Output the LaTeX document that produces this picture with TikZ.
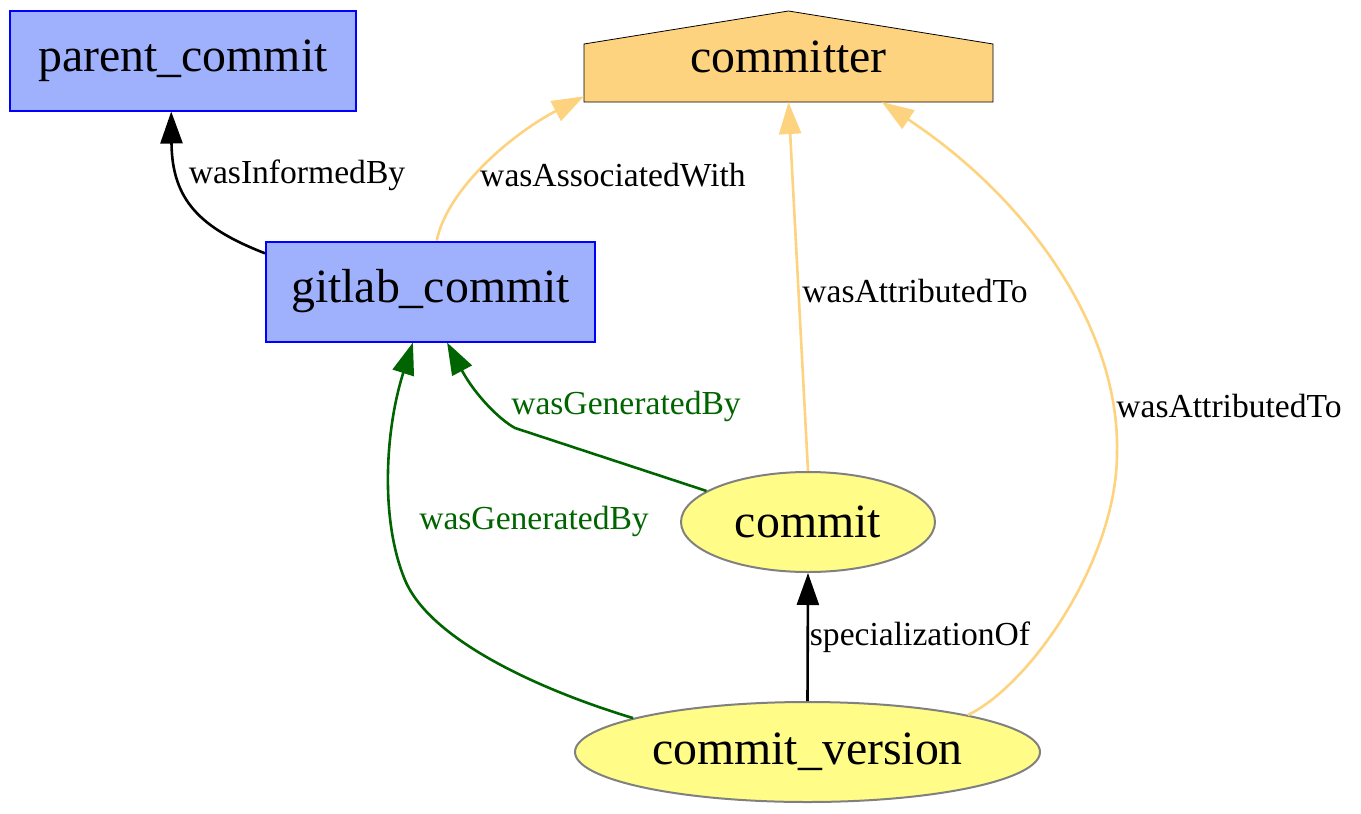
\documentclass[tikz,border=0pt]{standalone}
\usepackage{fontspec}
\setmainfont{Liberation Serif}
\usetikzlibrary{arrows.meta,shapes.geometric,backgrounds}

\definecolor{actfill}{HTML}{9FB1FC}
\definecolor{agentfill}{HTML}{FED37F}
\definecolor{entfill}{HTML}{FFFC87}
\definecolor{gengreen}{HTML}{006400}

\begin{document}
\begin{tikzpicture}[
        x=0.5pt, y=-0.5pt,
        >={Triangle[length=16pt,width=11pt]},
        line width=1pt,
        activity/.style={draw=blue, fill=actfill, inner sep=0pt, minimum height=50pt, font=\fontsize{23.9}{28}\selectfont},
        agent/.style={inner sep=0pt, minimum width=203.5pt, minimum height=44.5pt, font=\fontsize{23.9}{28}\selectfont},
        entity/.style={ellipse, draw=gray, fill=entfill, inner sep=0pt, minimum height=50pt, font=\fontsize{23.9}{28}\selectfont},
        lbl/.style={inner sep=0pt, font=\fontsize{16.8}{20}\selectfont},
        rel/.style={->, line width=1.3pt},
        gen/.style={rel, draw=gengreen},
        attr/.style={rel, draw=agentfill}
      ]
      \useasboundingbox (0,0) rectangle (1361,814);

      \node[activity, minimum width=173pt] (parent) at (183,60.5) {parent\_commit};
      \node[activity, minimum width=164.5pt] (gitlab) at (430.5,291.5) {gitlab\_commit};
      \node[agent] (committer) at (788.5,56.5) {committer};
      \node[entity, minimum width=127pt] (commit) at (808,522) {commit};
      \node[entity, minimum width=232.5pt] (version) at (807.5,752) {commit\_version};

      \begin{pgfonlayer}{background}
        \draw[fill=agentfill] (committer.south west) -- ([yshift=-16.5pt]committer.north west) -- (committer.north)
          -- ([yshift=-16.5pt]committer.north east) -- (committer.south east) -- cycle;
      \end{pgfonlayer}

      \draw[rel] (gitlab.167) .. controls (200,228) and (172,200) .. (parent.257);
      \draw[attr] (gitlab.83) .. controls (447,190) and (510,135) .. (committer.191);
      \draw[attr] (commit.north) -- (committer.south);
      \draw[attr] (version.13) .. controls (1030,685) and (1117,560) .. (1117,453)
        .. controls (1120,330) and (1030,200) .. (committer.334.5);
      \draw[gen] (commit.163) -- (515,428) .. controls (500,420) and (475,395) .. (gitlab.288);
      \draw[gen] (version.169) .. controls (540,690) and (430,640) .. (405,580)
        .. controls (380,520) and (385,430) .. (gitlab.251);
      \draw[rel] (version.north) -- (commit.south);

      \node[lbl] (lbl-informed) at (297,175) {wasInformedBy};
      \node[lbl] (lbl-assoc) at (613,175) {wasAssociatedWith};
      \node[lbl] (lbl-attr-commit) at (915,291) {wasAttributedTo};
      \node[lbl] (lbl-attr-version) at (1229,406) {wasAttributedTo};
      \node[lbl, text=gengreen] (lbl-gen-commit) at (626,406) {wasGeneratedBy};
      \node[lbl, text=gengreen] (lbl-gen-version) at (534,521) {wasGeneratedBy};
      \node[lbl] (lbl-spec) at (920,637) {specializationOf};
    \end{tikzpicture}
\end{document}
